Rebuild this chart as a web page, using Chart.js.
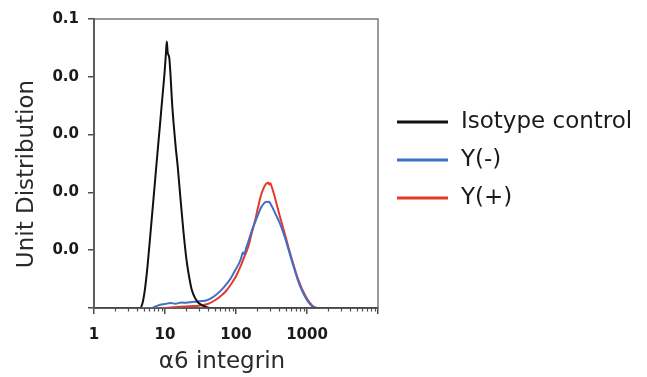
<!DOCTYPE html>
<html>
<head>
<meta charset="utf-8">
<script src="https://cdn.jsdelivr.net/npm/chart.js@4.4.1/dist/chart.umd.min.js"></script>
<style>
    html, body { margin: 0; padding: 0; background: #fff; }
    #wrap { width: 647px; height: 377px; position: relative; }
</style>
</head>
<body>
<div id="wrap"><canvas id="histChart"></canvas></div>
<script>
// Histogram traces (x = fluorescence, log axis; y = unit distribution)
const isoX = [1, 4.45, 4.8, 5.2, 5.7, 6.3, 6.9, 7.6, 8.4, 9.2, 9.9, 10.3, 10.6, 10.9, 11.5, 12.0, 12.5, 13.2, 14.1, 15.1,
    16.5, 18.1, 20.0, 21.8, 23.7, 26.5, 29.5, 35, 43, 10000];
const isoY = [0, 0, 0.0015, 0.0062, 0.015, 0.027, 0.038, 0.050, 0.062, 0.0731, 0.082, 0.088, 0.0922, 0.0885, 0.0865, 0.080, 0.072, 0.064, 0.056, 0.049,
    0.038, 0.027, 0.017, 0.011, 0.0065, 0.0035, 0.0018, 0.0007, 0, 0];

const negX = [1, 6.5, 7.5, 8.5, 10, 12, 14, 17, 20, 24, 28, 33, 39, 45, 52, 62, 72, 84, 96, 108, 118, 125, 130, 138, 150, 164, 178,
    192, 210, 228, 248, 265, 280, 292, 310, 335, 365, 400, 440, 490, 545, 600, 665, 735, 810, 890, 980, 1080, 1190, 1320, 10000];
const negY = [0, 0, 0.0006, 0.0011, 0.0014, 0.0017, 0.0015, 0.0019, 0.0018, 0.0021, 0.0022, 0.0024, 0.0027, 0.0034, 0.0045, 0.0062, 0.008, 0.0102, 0.0128, 0.015, 0.0172, 0.0192, 0.0186, 0.0205, 0.0232, 0.0262, 0.0285,
    0.0306, 0.033, 0.035, 0.0362, 0.0368, 0.0366, 0.0368, 0.0358, 0.0342, 0.0322, 0.0302, 0.0276, 0.0243, 0.0205, 0.017, 0.0134, 0.01, 0.0072, 0.005, 0.0031, 0.0016, 0.0006, 0, 0];

const posX = [1, 9, 12, 16, 22, 30, 40, 50, 60, 72, 85, 100, 115, 130, 148, 165, 186, 205, 225, 245, 262, 275, 285, 295,
    305, 320, 345, 375, 410, 450, 495, 545, 600, 660, 725, 800, 880, 970, 1070, 1180, 1300, 1420, 10000];
const posY = [0, 0, 0.0002, 0.0004, 0.0006, 0.0008, 0.0014, 0.0026, 0.004, 0.0058, 0.0082, 0.011, 0.0142, 0.0175, 0.021, 0.0255, 0.0304, 0.035, 0.039, 0.0415, 0.0428, 0.0432, 0.0434, 0.0427,
    0.0432, 0.0418, 0.0392, 0.0358, 0.0322, 0.0286, 0.025, 0.0212, 0.0176, 0.0142, 0.011, 0.0082, 0.0058, 0.0038, 0.0021, 0.0009, 0.0002, 0, 0];

const seriesLabels = ['Isotype control', 'Y(-)', 'Y(+)'];
const seriesColors = ['#111111', '#3f6fc6', '#e8372b'];

const xTickValues = [1, 10, 100, 1000, 10000];
const xTickLabels = ['1', '10', '100', '1000', ''];
const yTickValues = [0, 0.02, 0.04, 0.06, 0.08, 0.1];
const yTickLabels = ['', '0.0', '0.0', '0.0', '0.0', '0.1'];
const xTitle = 'α6 integrin';
const yTitle = 'Unit Distribution';

const axisColor = '#4d4d4d';
const textFont = '"DejaVu Sans", Verdana, sans-serif';

function toPoints(xs, ys) {
    return xs.map((x, i) => ({ x: x, y: ys[i] }));
}

// minor ticks between the decades of the log axis
const xMinorTicks = [];
for (let d = 1; d < 10000; d *= 10) {
    for (let k = 2; k <= 9; k++) xMinorTicks.push(k * d);
}

const extras = {
    id: 'extras',
    afterDraw(chart) {
        const ctx = chart.ctx;
        const area = chart.chartArea;
        const xs = chart.scales.x;

        ctx.save();
        // frame around the plot
        ctx.strokeStyle = '#666';
        ctx.lineWidth = 1.3;
        ctx.strokeRect(area.left, area.top, area.right - area.left, area.bottom - area.top);

        // minor ticks
        ctx.strokeStyle = axisColor;
        ctx.lineWidth = 1.2;
        xMinorTicks.forEach(v => {
            const px = Math.round(xs.getPixelForValue(v)) + 0.5;
            ctx.beginPath();
            ctx.moveTo(px, area.bottom);
            ctx.lineTo(px, area.bottom + 3.5);
            ctx.stroke();
        });

        // axis titles
        ctx.fillStyle = '#2a2a2a';
        ctx.font = '23px ' + textFont;
        ctx.textAlign = 'center';
        ctx.textBaseline = 'middle';
        ctx.fillText(xTitle, 222, 362);
        ctx.save();
        ctx.translate(27, 174);
        ctx.rotate(-Math.PI / 2);
        ctx.fillText(yTitle, 0, 0);
        ctx.restore();

        // legend
        const rows = [122, 160, 198];
        ctx.textAlign = 'left';
        chart.data.datasets.forEach((ds, i) => {
            ctx.strokeStyle = ds.borderColor;
            ctx.lineWidth = 3;
            ctx.beginPath();
            ctx.moveTo(397, rows[i]);
            ctx.lineTo(448, rows[i]);
            ctx.stroke();
            ctx.fillStyle = '#1a1a1a';
            ctx.fillText(ds.label, 461, rows[i]);
        });
        ctx.restore();
    }
};

new Chart(document.getElementById('histChart'), {
    type: 'line',
    data: {
        datasets: [
            { label: seriesLabels[0], data: toPoints(isoX, isoY), borderColor: seriesColors[0] },
            { label: seriesLabels[1], data: toPoints(negX, negY), borderColor: seriesColors[1] },
            { label: seriesLabels[2], data: toPoints(posX, posY), borderColor: seriesColors[2] }
        ].map(ds => Object.assign(ds, {
            borderWidth: 2,
            pointRadius: 0,
            fill: false,
            cubicInterpolationMode: 'monotone'
        }))
    },
    options: {
        responsive: true,
        maintainAspectRatio: false,
        animation: false,
        layout: { padding: { left: 0, right: 269, top: 19, bottom: 0 } },
        plugins: { legend: { display: false }, tooltip: { enabled: false } },
        scales: {
            x: {
                type: 'logarithmic',
                min: 1,
                max: 10000,
                afterBuildTicks: s => { s.ticks = xTickValues.map(v => ({ value: v, major: true })); },
                afterFit: s => { s.height = 69; },
                grid: { display: true, drawOnChartArea: false, tickLength: 6, color: axisColor, lineWidth: 1.5 },
                border: { display: true, color: axisColor, width: 2 },
                ticks: {
                    autoSkip: false,
                    maxRotation: 0,
                    padding: 12,
                    color: '#1a1a1a',
                    font: { family: textFont, size: 15, weight: 'bold' },
                    callback: (v, i) => xTickLabels[i]
                }
            },
            y: {
                min: 0,
                max: 0.1,
                afterBuildTicks: s => { s.ticks = yTickValues.map(v => ({ value: v })); },
                afterFit: s => { s.width = 94; },
                grid: { display: true, drawOnChartArea: false, tickLength: 6, color: axisColor, lineWidth: 1.5 },
                border: { display: true, color: axisColor, width: 2 },
                ticks: {
                    padding: 9,
                    color: '#1a1a1a',
                    font: { family: textFont, size: 15, weight: 'bold' },
                    callback: (v, i) => yTickLabels[i]
                }
            }
        }
    },
    plugins: [extras]
});
</script>
</body>
</html>
